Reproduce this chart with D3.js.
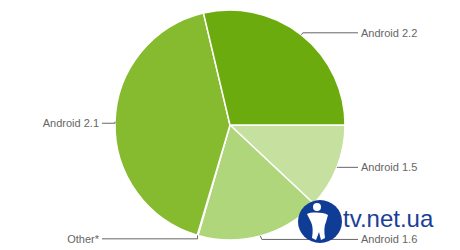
<!DOCTYPE html>
<html><head><meta charset="utf-8">
<script src="https://cdn.jsdelivr.net/npm/d3@7"></script>
<style>html,body{margin:0;padding:0;background:#fff;}svg{display:block;}</style>
</head><body>
<svg id="c" width="460" height="250"></svg>
<script>
const categories = ["Android 1.5", "Android 1.6", "Other*", "Android 2.1", "Android 2.2"];
const values = [12.0, 17.5, 0.1, 41.7, 28.7];
const colors = ["#c6e09f", "#b0d67b", "#f4f9ec", "#86bb2f", "#6cab0d"];

const svg = d3.select("#c");
const cx = 230, cy = 125, R = 115;
const g = svg.append("g").attr("transform", `translate(${cx},${cy})`);
const data = categories.map((c, i) => ({ name: c, value: values[i], color: colors[i] }));
const pie = d3.pie().value(d => d.value).sort(null).startAngle(Math.PI / 2).endAngle(Math.PI / 2 + 2 * Math.PI);
const arc = d3.arc().innerRadius(0).outerRadius(R);
const arcs = pie(data);

g.selectAll("path.s").data(arcs).join("path")
  .attr("class", "s")
  .attr("d", arc)
  .attr("fill", d => d.data.color)
  .attr("stroke", "#fff")
  .attr("stroke-width", 1.5)
  .attr("stroke-linejoin", "round");

// labels
const lineColor = "#666";
arcs.forEach(a => {
  const m = (a.startAngle + a.endAngle) / 2;
  const px = R * Math.sin(m), py = -R * Math.cos(m);
  const right = px > 0;
  let ly = py;
  if (py > 105) ly = py + 3.5;
  else if (py < -80) ly = py - 2;
  else if (!right) ly = py + 1.5;
  const endX = right ? 358 - cx : 102 - cx;
  const kx = px + (right ? 1.5 : 0);
  g.append("path")
    .attr("d", `M${px},${py}L${kx},${ly}L${endX},${ly}`)
    .attr("fill", "none").attr("stroke", lineColor).attr("stroke-width", 1);
  g.append("text")
    .attr("x", right ? endX + 3 : endX - 3)
    .attr("y", ly + 4)
    .attr("text-anchor", right ? "start" : "end")
    .attr("font-family", "Liberation Sans, Arial, sans-serif")
    .attr("font-size", 11)
    .attr("fill", "#666")
    .text(a.data.name);
});

// watermark logo
const logo = svg.append("g");
logo.append("ellipse").attr("cx", 320).attr("cy", 221.5).attr("rx", 22).attr("ry", 21.5).attr("fill", "#0f3d96");
logo.append("circle").attr("cx", 317).attr("cy", 207).attr("r", 4).attr("fill", "#fff");
logo.append("path")
  .attr("d", "M307,214 C311,212 323,212 328,215 L326,222 C324,226 324,232 325,238 L321,240 L319,232 L316,240 L312,238 C313,232 313,226 311,222 Z")
  .attr("fill", "#fff");
logo.append("text").attr("x", 343).attr("y", 227)
  .attr("font-family", "Liberation Sans, Arial, sans-serif")
  .attr("font-size", 24).attr("fill", "#1a3f97")
  .text("tv.net.ua");
// redraw 1.6 label on top of logo
</script>
</body></html>
